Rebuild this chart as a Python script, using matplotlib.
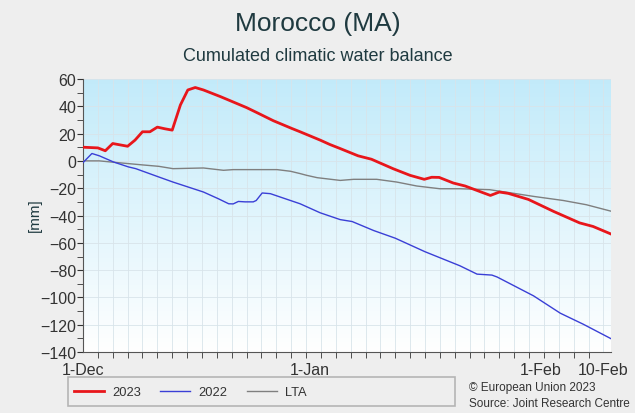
import numpy as np
import matplotlib.pyplot as plt
from matplotlib.patches import Rectangle
from matplotlib.ticker import MultipleLocator

plt.rcParams['font.family'] = ['Liberation Sans', 'DejaVu Sans']

# days counted from 1-Dec
days_2023 = [0, 2, 3, 4, 6, 7, 8, 9, 10, 11, 12, 13.1, 14.1, 15.1, 16.2, 18.5, 22,
             23.4, 25.6, 28.1, 29.2, 31.9, 33.2,
             34.6, 37, 38.8, 41.7, 44, 45.9, 46.9, 47.9, 49.8, 51.4, 53.8, 54.8,
             56, 57.2, 59.9, 63.3, 66.8, 68.6, 71]
vals_2023 = [10, 9.5, 7.4, 12.7, 10.7, 15.2, 21.3, 21.3, 24.7, 23.5, 22.5, 40.9,
             51.9, 53.7, 51.9, 47, 39, 35.3, 29.4, 23.7, 21.3, 15.2, 12,
             9, 3.7, 1.2, -5.7, -10.6, -13.5, -12, -12.1, -16.2, -18.4, -23.3, -25.3,
             -22.8, -23.8, -28.2, -37, -45.4, -48, -53.5]

days_2022 = [0, 1.2, 2.2, 4.1, 6.1, 7.1, 10.2, 12.1, 16.2, 18.2, 19.6, 20.2, 20.9,
             21.8, 22.9, 23.3, 24.1, 25.2, 27.9, 29.2, 31.9, 34.6, 36.2, 39.1, 42,
             46, 50.7, 53, 55, 55.7, 60.6, 64.2, 67.3, 71]
vals_2022 = [-1.3, 5.4, 3.7, -0.8, -4.4, -5.7, -11.8, -15.5, -22.8, -27.7, -31.4,
             -31.5, -29.7, -30, -30, -29, -23.5, -24, -29, -31.4, -38, -43, -44.4,
             -51, -56.6, -66.5, -76.8, -82.9, -83.6, -85, -98.8, -111.5, -119.6,
             -130.1]

days_lta = [0, 2.2, 4.1, 6.1, 8.1, 10.2, 12.1, 16.2, 18.9, 20.2, 26.1, 27.9, 29.2,
            30.1, 31.5, 34.6, 36.4, 39.5, 42.2, 44.9, 48, 50.7, 54.7, 57.4, 60.6,
            64.6, 67.7, 71]
vals_lta = [0, 0, -1, -2, -3, -4, -5.7, -5.2, -6.9, -6.4, -6.4, -7.6, -9.3, -10.6,
            -12.3, -14.3, -13.5, -13.5, -15.5, -18.4, -20.4, -20.4, -21.1, -23.3,
            -26, -29, -32.1, -36.8]

tick_days = [0, 30.5, 61.5, 70]
tick_labels = ['1-Dec', '1-Jan', '1-Feb', '10-Feb']

fig = plt.figure(figsize=(6.35, 4.14), dpi=100, facecolor='#eeeeee')
ax = fig.add_axes([0.1307, 0.147, 0.8313, 0.66])

# gradient background
grad = np.linspace(0, 1, 256).reshape(-1, 1)
top = np.array([0.76, 0.92, 0.98])
bottom = np.array([1.0, 1.0, 1.0])
img = bottom + (top - bottom) * grad[..., None]
img = img.reshape(256, 1, 3)
ax.imshow(img, extent=[0, 71, -140, 60], origin='lower', aspect='auto', zorder=0)

for d in np.arange(0, 72, 2):
    ax.axvline(d, color='#d8e4ea', lw=0.6, zorder=1)
for v in range(-140, 61, 20):
    ax.axhline(v, color='#d8e4ea', lw=0.6, zorder=1)

ax.plot(days_lta, vals_lta, color='#7f7f7f', lw=1.0, zorder=3, label='LTA')
ax.plot(days_2022, vals_2022, color='#3a3fd6', lw=1.0, zorder=3, label='2022')
ax.plot(days_2023, vals_2023, color='#e8161b', lw=2.0, zorder=4, label='2023')

ax.set_xlim(0, 71)
ax.set_ylim(-140, 60)
ax.set_yticks(range(-140, 61, 20))
ax.yaxis.set_minor_locator(MultipleLocator(10))
ax.set_xticks(tick_days)
ax.set_xticklabels(tick_labels)
ax.xaxis.set_minor_locator(MultipleLocator(2))
ax.tick_params(axis='both', labelsize=11.5, colors='#333333', direction='out',
               length=4, pad=1)
ax.tick_params(axis='both', which='minor', direction='out', length=4, colors='#333333')
ax.tick_params(axis='x', which='major', length=0, pad=7)
for s in ['top', 'right']:
    ax.spines[s].set_visible(False)
for s in ['left', 'bottom']:
    ax.spines[s].set_color('#555555')

fig.text(35 / 635, 1 - 215 / 414, '[mm]', rotation=90, ha='center', va='center',
         fontsize=11, color='#1f3a40')

fig.text(0.5, 0.943, 'Morocco (MA)', ha='center', va='center', fontsize=19,
         color='#1f3a40')
fig.text(0.5, 0.864, 'Cumulated climatic water balance', ha='center', va='center',
         fontsize=13, color='#1f3a40')

# legend box
fig.patches.append(Rectangle((0.107, 0.017), 0.61, 0.07, transform=fig.transFigure,
                             facecolor='none', edgecolor='#b5b5b5', lw=1.2))
h, l = ax.get_legend_handles_labels()
order = [2, 1, 0]
fig.legend([h[i] for i in order], [l[i] for i in order], ncol=3, frameon=False,
           loc='center left', bbox_to_anchor=(0.1165, 0.05), fontsize=9.3,
           handlelength=2.3, handletextpad=0.65, columnspacing=1.5,
           borderpad=0, borderaxespad=0, labelcolor='#333333')

fig.text(0.738, 0.063, '\u00a9 European Union 2023', fontsize=8.5, color='#333333',
         va='center')
fig.text(0.738, 0.024, 'Source: Joint Research Centre', fontsize=8.5, color='#333333',
         va='center')

fig.savefig('out.png', dpi=100, facecolor=fig.get_facecolor())
